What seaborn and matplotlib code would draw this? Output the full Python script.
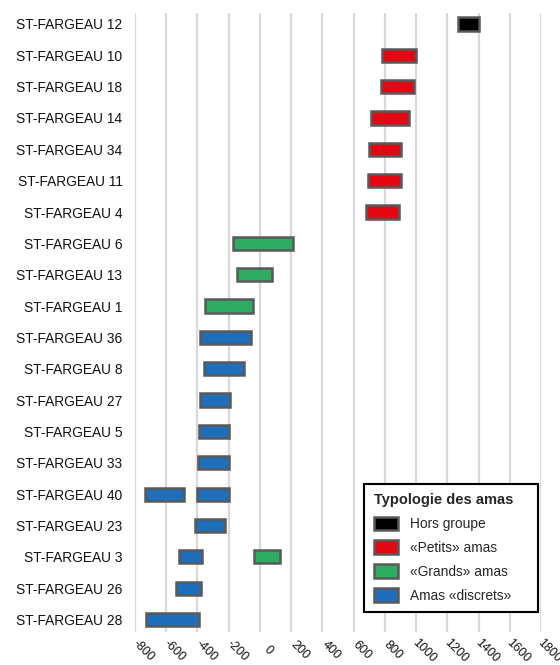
import matplotlib
matplotlib.use("Agg")
import matplotlib.pyplot as plt
from matplotlib.patches import Patch
from matplotlib.transforms import ScaledTranslation
import seaborn as sns
import pandas as pd

# Categories (top to bottom)
sites = ["ST-FARGEAU 12", "ST-FARGEAU 10", "ST-FARGEAU 18", "ST-FARGEAU 14",
         "ST-FARGEAU 34", "ST-FARGEAU 11", "ST-FARGEAU 4", "ST-FARGEAU 6",
         "ST-FARGEAU 13", "ST-FARGEAU 1", "ST-FARGEAU 36", "ST-FARGEAU 8",
         "ST-FARGEAU 27", "ST-FARGEAU 5", "ST-FARGEAU 33", "ST-FARGEAU 40",
         "ST-FARGEAU 23", "ST-FARGEAU 3", "ST-FARGEAU 26", "ST-FARGEAU 28"]

# Segments: site, start, end, group
seg_site = ["ST-FARGEAU 12", "ST-FARGEAU 10", "ST-FARGEAU 18", "ST-FARGEAU 14",
            "ST-FARGEAU 34", "ST-FARGEAU 11", "ST-FARGEAU 4", "ST-FARGEAU 6",
            "ST-FARGEAU 13", "ST-FARGEAU 1", "ST-FARGEAU 36", "ST-FARGEAU 8",
            "ST-FARGEAU 27", "ST-FARGEAU 5", "ST-FARGEAU 33", "ST-FARGEAU 40",
            "ST-FARGEAU 40", "ST-FARGEAU 23", "ST-FARGEAU 3", "ST-FARGEAU 3",
            "ST-FARGEAU 26", "ST-FARGEAU 28"]
seg_start = [1270, 780, 775, 710, 700, 690, 680, -170, -145, -350, -385, -360,
             -385, -390, -395, -735, -400, -415, -520, -40, -540, -730]
seg_end = [1400, 1000, 985, 955, 905, 905, 890, 210, 75, -45, -55, -100,
           -190, -195, -200, -485, -200, -225, -370, 130, -380, -390]
seg_group = ["Hors groupe", "«Petits» amas", "«Petits» amas", "«Petits» amas",
             "«Petits» amas", "«Petits» amas", "«Petits» amas", "«Grands» amas",
             "«Grands» amas", "«Grands» amas", "Amas «discrets»", "Amas «discrets»",
             "Amas «discrets»", "Amas «discrets»", "Amas «discrets»", "Amas «discrets»",
             "Amas «discrets»", "Amas «discrets»", "Amas «discrets»", "«Grands» amas",
             "Amas «discrets»", "Amas «discrets»"]

groups = ["Hors groupe", "«Petits» amas", "«Grands» amas", "Amas «discrets»"]
group_colors = ["#000000", "#E30613", "#2EAD62", "#1F6EB9"]

xticks = list(range(-800, 1801, 200))

sns.set_theme(style="white")
plt.rcParams["font.family"] = ["Liberation Sans", "DejaVu Sans"]

df = pd.DataFrame({"site": seg_site, "start": seg_start, "end": seg_end,
                   "group": seg_group})
df["pos"] = df["site"].map({s: i for i, s in enumerate(sites)})
cmap = dict(zip(groups, group_colors))

fig = plt.figure(figsize=(5.6, 6.65), dpi=100)
ax = fig.add_axes([135 / 560, 33 / 665, 406 / 560, 619 / 665])

ax.barh(df["pos"], df["end"] - df["start"], left=df["start"], height=0.42,
        color=[cmap[g] for g in df["group"]], edgecolor="#595959",
        linewidth=1.8, zorder=3)

ax.set_xlim(-800, 1800)
ax.set_ylim(19.4, -0.35)
ax.set_yticks(range(len(sites)))
ax.set_yticklabels(sites, fontsize=9.9, color="#111111")
ax.set_xticks(xticks)
ax.set_xticklabels([str(t) for t in xticks], rotation=-45, ha="center",
                   va="center", rotation_mode="anchor", fontsize=9,
                   color="#111111")
ax.tick_params(axis="both", length=0)
ax.tick_params(axis="y", pad=9)
ax.tick_params(axis="x", pad=13.5)
shift = ScaledTranslation(8.5 / 100, 0, fig.dpi_scale_trans)
for lab in ax.get_xticklabels():
    lab.set_transform(lab.get_transform() + shift)
ax.grid(axis="x", color="#D9D9D9", linewidth=1.6, zorder=0)
ax.grid(axis="y", visible=False)
for sp in ax.spines.values():
    sp.set_visible(False)
ax.set_xlabel("")
ax.set_ylabel("")

handles = [Patch(facecolor=c, edgecolor="#595959", linewidth=1.8, label=g)
           for g, c in zip(groups, group_colors)]
leg = ax.legend(handles=handles, title="Typologie des amas", loc="lower left",
                bbox_to_anchor=(0.564, 0.032, 0.429, 0.2), mode="expand",
                fontsize=9.9, title_fontsize=10.5,
                frameon=True, fancybox=False, framealpha=1, edgecolor="#000000",
                handlelength=1.8, handleheight=1.15, handletextpad=0.87,
                labelspacing=0.68, borderpad=0.7, borderaxespad=0)
leg.get_frame().set_linewidth(1.5)
leg.get_title().set_fontweight("bold")
leg._legend_box.align = "left"
leg.set_zorder(5)

fig.savefig("out.png", dpi=100)
